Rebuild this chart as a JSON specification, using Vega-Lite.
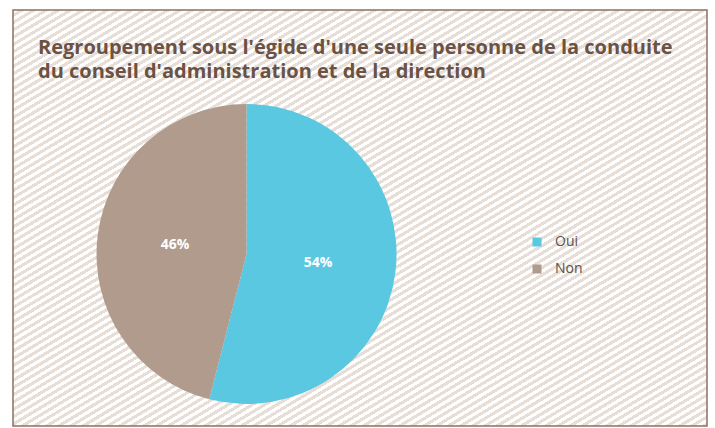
{
"$schema": "https://vega.github.io/schema/vega-lite/v6.json",
"width": 694,
"height": 416,
"autosize": "none",
"padding": {"left": 13, "top": 10, "right": 8, "bottom": 2},
"background": "white",
"title": {"text": ["Regroupement sous l'égide d'une seule personne de la conduite", "du conseil d'administration et de la direction"], "anchor": "start", "frame": "group", "orient": "top", "offset": -88, "dx": 25, "baseline": "alphabetic", "lineHeight": 24, "font": "Open Sans", "fontSize": 20, "fontWeight": 700, "color": "#6b5244"},
"data": {"values": [{"reponse": "Oui", "part": 0.54}, {"reponse": "Non", "part": 0.46}]},
"encoding": {
"theta": {"field": "part", "type": "quantitative", "stack": true},
"order": {"field": "part", "sort": "descending"},
"color": {"field": "reponse", "type": "nominal", "scale": {"domain": ["Oui", "Non"], "range": ["#5bc8e2", "#b09b8d"]}, "legend": {"title": null, "orient": "none", "legendX": 517, "legendY": 225, "symbolType": "square", "symbolSize": 81, "symbolStrokeWidth": 0, "labelFont": "Open Sans", "labelFontSize": 14, "labelColor": "#5e5048", "rowPadding": 13, "labelOffset": 11}},
"x": {"datum": 0.3365, "type": "quantitative", "scale": {"domain": [0, 1], "nice": false, "zero": false}, "axis": null},
"y": {"datum": 0.4135, "type": "quantitative", "scale": {"domain": [0, 1], "nice": false, "zero": false}, "axis": null}
},
"layer": [
{"mark": {"type": "arc", "outerRadius": 150}},
{"mark": {"type": "text", "radius": 72, "font": "Open Sans", "fontSize": 14, "fontWeight": "bold", "fill": "white"}, "encoding": {"text": {"field": "part", "type": "quantitative", "format": ".0%"}}}
],
"config": {"view": {"stroke": "#8a7263", "strokeWidth": 1.5, "fill": {"gradient": "linear", "x1": 0, "y1": 0, "x2": 1, "y2": 1, "stops": [
{"offset":0,"color":"#fff"},{"offset":0.0044,"color":"#fff"},{"offset":0.0044,"color":"#e6ded7"},{"offset":0.0088,"color":"#e6ded7"},
{"offset":0.0088,"color":"#fff"},{"offset":0.0132,"color":"#fff"},{"offset":0.0132,"color":"#e6ded7"},{"offset":0.0175,"color":"#e6ded7"},
{"offset":0.0175,"color":"#fff"},{"offset":0.0219,"color":"#fff"},{"offset":0.0219,"color":"#e6ded7"},{"offset":0.0263,"color":"#e6ded7"},
{"offset":0.0263,"color":"#fff"},{"offset":0.0307,"color":"#fff"},{"offset":0.0307,"color":"#e6ded7"},{"offset":0.0351,"color":"#e6ded7"},
{"offset":0.0351,"color":"#fff"},{"offset":0.0395,"color":"#fff"},{"offset":0.0395,"color":"#e6ded7"},{"offset":0.0439,"color":"#e6ded7"},
{"offset":0.0439,"color":"#fff"},{"offset":0.0482,"color":"#fff"},{"offset":0.0482,"color":"#e6ded7"},{"offset":0.0526,"color":"#e6ded7"},
{"offset":0.0526,"color":"#fff"},{"offset":0.0570,"color":"#fff"},{"offset":0.0570,"color":"#e6ded7"},{"offset":0.0614,"color":"#e6ded7"},
{"offset":0.0614,"color":"#fff"},{"offset":0.0658,"color":"#fff"},{"offset":0.0658,"color":"#e6ded7"},{"offset":0.0702,"color":"#e6ded7"},
{"offset":0.0702,"color":"#fff"},{"offset":0.0746,"color":"#fff"},{"offset":0.0746,"color":"#e6ded7"},{"offset":0.0789,"color":"#e6ded7"},
{"offset":0.0789,"color":"#fff"},{"offset":0.0833,"color":"#fff"},{"offset":0.0833,"color":"#e6ded7"},{"offset":0.0877,"color":"#e6ded7"},
{"offset":0.0877,"color":"#fff"},{"offset":0.0921,"color":"#fff"},{"offset":0.0921,"color":"#e6ded7"},{"offset":0.0965,"color":"#e6ded7"},
{"offset":0.0965,"color":"#fff"},{"offset":0.1009,"color":"#fff"},{"offset":0.1009,"color":"#e6ded7"},{"offset":0.1053,"color":"#e6ded7"},
{"offset":0.1053,"color":"#fff"},{"offset":0.1096,"color":"#fff"},{"offset":0.1096,"color":"#e6ded7"},{"offset":0.1140,"color":"#e6ded7"},
{"offset":0.1140,"color":"#fff"},{"offset":0.1184,"color":"#fff"},{"offset":0.1184,"color":"#e6ded7"},{"offset":0.1228,"color":"#e6ded7"},
{"offset":0.1228,"color":"#fff"},{"offset":0.1272,"color":"#fff"},{"offset":0.1272,"color":"#e6ded7"},{"offset":0.1316,"color":"#e6ded7"},
{"offset":0.1316,"color":"#fff"},{"offset":0.1360,"color":"#fff"},{"offset":0.1360,"color":"#e6ded7"},{"offset":0.1404,"color":"#e6ded7"},
{"offset":0.1404,"color":"#fff"},{"offset":0.1447,"color":"#fff"},{"offset":0.1447,"color":"#e6ded7"},{"offset":0.1491,"color":"#e6ded7"},
{"offset":0.1491,"color":"#fff"},{"offset":0.1535,"color":"#fff"},{"offset":0.1535,"color":"#e6ded7"},{"offset":0.1579,"color":"#e6ded7"},
{"offset":0.1579,"color":"#fff"},{"offset":0.1623,"color":"#fff"},{"offset":0.1623,"color":"#e6ded7"},{"offset":0.1667,"color":"#e6ded7"},
{"offset":0.1667,"color":"#fff"},{"offset":0.1711,"color":"#fff"},{"offset":0.1711,"color":"#e6ded7"},{"offset":0.1754,"color":"#e6ded7"},
{"offset":0.1754,"color":"#fff"},{"offset":0.1798,"color":"#fff"},{"offset":0.1798,"color":"#e6ded7"},{"offset":0.1842,"color":"#e6ded7"},
{"offset":0.1842,"color":"#fff"},{"offset":0.1886,"color":"#fff"},{"offset":0.1886,"color":"#e6ded7"},{"offset":0.1930,"color":"#e6ded7"},
{"offset":0.1930,"color":"#fff"},{"offset":0.1974,"color":"#fff"},{"offset":0.1974,"color":"#e6ded7"},{"offset":0.2018,"color":"#e6ded7"},
{"offset":0.2018,"color":"#fff"},{"offset":0.2061,"color":"#fff"},{"offset":0.2061,"color":"#e6ded7"},{"offset":0.2105,"color":"#e6ded7"},
{"offset":0.2105,"color":"#fff"},{"offset":0.2149,"color":"#fff"},{"offset":0.2149,"color":"#e6ded7"},{"offset":0.2193,"color":"#e6ded7"},
{"offset":0.2193,"color":"#fff"},{"offset":0.2237,"color":"#fff"},{"offset":0.2237,"color":"#e6ded7"},{"offset":0.2281,"color":"#e6ded7"},
{"offset":0.2281,"color":"#fff"},{"offset":0.2325,"color":"#fff"},{"offset":0.2325,"color":"#e6ded7"},{"offset":0.2368,"color":"#e6ded7"},
{"offset":0.2368,"color":"#fff"},{"offset":0.2412,"color":"#fff"},{"offset":0.2412,"color":"#e6ded7"},{"offset":0.2456,"color":"#e6ded7"},
{"offset":0.2456,"color":"#fff"},{"offset":0.2500,"color":"#fff"},{"offset":0.2500,"color":"#e6ded7"},{"offset":0.2544,"color":"#e6ded7"},
{"offset":0.2544,"color":"#fff"},{"offset":0.2588,"color":"#fff"},{"offset":0.2588,"color":"#e6ded7"},{"offset":0.2632,"color":"#e6ded7"},
{"offset":0.2632,"color":"#fff"},{"offset":0.2675,"color":"#fff"},{"offset":0.2675,"color":"#e6ded7"},{"offset":0.2719,"color":"#e6ded7"},
{"offset":0.2719,"color":"#fff"},{"offset":0.2763,"color":"#fff"},{"offset":0.2763,"color":"#e6ded7"},{"offset":0.2807,"color":"#e6ded7"},
{"offset":0.2807,"color":"#fff"},{"offset":0.2851,"color":"#fff"},{"offset":0.2851,"color":"#e6ded7"},{"offset":0.2895,"color":"#e6ded7"},
{"offset":0.2895,"color":"#fff"},{"offset":0.2939,"color":"#fff"},{"offset":0.2939,"color":"#e6ded7"},{"offset":0.2982,"color":"#e6ded7"},
{"offset":0.2982,"color":"#fff"},{"offset":0.3026,"color":"#fff"},{"offset":0.3026,"color":"#e6ded7"},{"offset":0.3070,"color":"#e6ded7"},
{"offset":0.3070,"color":"#fff"},{"offset":0.3114,"color":"#fff"},{"offset":0.3114,"color":"#e6ded7"},{"offset":0.3158,"color":"#e6ded7"},
{"offset":0.3158,"color":"#fff"},{"offset":0.3202,"color":"#fff"},{"offset":0.3202,"color":"#e6ded7"},{"offset":0.3246,"color":"#e6ded7"},
{"offset":0.3246,"color":"#fff"},{"offset":0.3289,"color":"#fff"},{"offset":0.3289,"color":"#e6ded7"},{"offset":0.3333,"color":"#e6ded7"},
{"offset":0.3333,"color":"#fff"},{"offset":0.3377,"color":"#fff"},{"offset":0.3377,"color":"#e6ded7"},{"offset":0.3421,"color":"#e6ded7"},
{"offset":0.3421,"color":"#fff"},{"offset":0.3465,"color":"#fff"},{"offset":0.3465,"color":"#e6ded7"},{"offset":0.3509,"color":"#e6ded7"},
{"offset":0.3509,"color":"#fff"},{"offset":0.3553,"color":"#fff"},{"offset":0.3553,"color":"#e6ded7"},{"offset":0.3596,"color":"#e6ded7"},
{"offset":0.3596,"color":"#fff"},{"offset":0.3640,"color":"#fff"},{"offset":0.3640,"color":"#e6ded7"},{"offset":0.3684,"color":"#e6ded7"},
{"offset":0.3684,"color":"#fff"},{"offset":0.3728,"color":"#fff"},{"offset":0.3728,"color":"#e6ded7"},{"offset":0.3772,"color":"#e6ded7"},
{"offset":0.3772,"color":"#fff"},{"offset":0.3816,"color":"#fff"},{"offset":0.3816,"color":"#e6ded7"},{"offset":0.3860,"color":"#e6ded7"},
{"offset":0.3860,"color":"#fff"},{"offset":0.3904,"color":"#fff"},{"offset":0.3904,"color":"#e6ded7"},{"offset":0.3947,"color":"#e6ded7"},
{"offset":0.3947,"color":"#fff"},{"offset":0.3991,"color":"#fff"},{"offset":0.3991,"color":"#e6ded7"},{"offset":0.4035,"color":"#e6ded7"},
{"offset":0.4035,"color":"#fff"},{"offset":0.4079,"color":"#fff"},{"offset":0.4079,"color":"#e6ded7"},{"offset":0.4123,"color":"#e6ded7"},
{"offset":0.4123,"color":"#fff"},{"offset":0.4167,"color":"#fff"},{"offset":0.4167,"color":"#e6ded7"},{"offset":0.4211,"color":"#e6ded7"},
{"offset":0.4211,"color":"#fff"},{"offset":0.4254,"color":"#fff"},{"offset":0.4254,"color":"#e6ded7"},{"offset":0.4298,"color":"#e6ded7"},
{"offset":0.4298,"color":"#fff"},{"offset":0.4342,"color":"#fff"},{"offset":0.4342,"color":"#e6ded7"},{"offset":0.4386,"color":"#e6ded7"},
{"offset":0.4386,"color":"#fff"},{"offset":0.4430,"color":"#fff"},{"offset":0.4430,"color":"#e6ded7"},{"offset":0.4474,"color":"#e6ded7"},
{"offset":0.4474,"color":"#fff"},{"offset":0.4518,"color":"#fff"},{"offset":0.4518,"color":"#e6ded7"},{"offset":0.4561,"color":"#e6ded7"},
{"offset":0.4561,"color":"#fff"},{"offset":0.4605,"color":"#fff"},{"offset":0.4605,"color":"#e6ded7"},{"offset":0.4649,"color":"#e6ded7"},
{"offset":0.4649,"color":"#fff"},{"offset":0.4693,"color":"#fff"},{"offset":0.4693,"color":"#e6ded7"},{"offset":0.4737,"color":"#e6ded7"},
{"offset":0.4737,"color":"#fff"},{"offset":0.4781,"color":"#fff"},{"offset":0.4781,"color":"#e6ded7"},{"offset":0.4825,"color":"#e6ded7"},
{"offset":0.4825,"color":"#fff"},{"offset":0.4868,"color":"#fff"},{"offset":0.4868,"color":"#e6ded7"},{"offset":0.4912,"color":"#e6ded7"},
{"offset":0.4912,"color":"#fff"},{"offset":0.4956,"color":"#fff"},{"offset":0.4956,"color":"#e6ded7"},{"offset":0.5000,"color":"#e6ded7"},
{"offset":0.5000,"color":"#fff"},{"offset":0.5044,"color":"#fff"},{"offset":0.5044,"color":"#e6ded7"},{"offset":0.5088,"color":"#e6ded7"},
{"offset":0.5088,"color":"#fff"},{"offset":0.5132,"color":"#fff"},{"offset":0.5132,"color":"#e6ded7"},{"offset":0.5175,"color":"#e6ded7"},
{"offset":0.5175,"color":"#fff"},{"offset":0.5219,"color":"#fff"},{"offset":0.5219,"color":"#e6ded7"},{"offset":0.5263,"color":"#e6ded7"},
{"offset":0.5263,"color":"#fff"},{"offset":0.5307,"color":"#fff"},{"offset":0.5307,"color":"#e6ded7"},{"offset":0.5351,"color":"#e6ded7"},
{"offset":0.5351,"color":"#fff"},{"offset":0.5395,"color":"#fff"},{"offset":0.5395,"color":"#e6ded7"},{"offset":0.5439,"color":"#e6ded7"},
{"offset":0.5439,"color":"#fff"},{"offset":0.5482,"color":"#fff"},{"offset":0.5482,"color":"#e6ded7"},{"offset":0.5526,"color":"#e6ded7"},
{"offset":0.5526,"color":"#fff"},{"offset":0.5570,"color":"#fff"},{"offset":0.5570,"color":"#e6ded7"},{"offset":0.5614,"color":"#e6ded7"},
{"offset":0.5614,"color":"#fff"},{"offset":0.5658,"color":"#fff"},{"offset":0.5658,"color":"#e6ded7"},{"offset":0.5702,"color":"#e6ded7"},
{"offset":0.5702,"color":"#fff"},{"offset":0.5746,"color":"#fff"},{"offset":0.5746,"color":"#e6ded7"},{"offset":0.5789,"color":"#e6ded7"},
{"offset":0.5789,"color":"#fff"},{"offset":0.5833,"color":"#fff"},{"offset":0.5833,"color":"#e6ded7"},{"offset":0.5877,"color":"#e6ded7"},
{"offset":0.5877,"color":"#fff"},{"offset":0.5921,"color":"#fff"},{"offset":0.5921,"color":"#e6ded7"},{"offset":0.5965,"color":"#e6ded7"},
{"offset":0.5965,"color":"#fff"},{"offset":0.6009,"color":"#fff"},{"offset":0.6009,"color":"#e6ded7"},{"offset":0.6053,"color":"#e6ded7"},
{"offset":0.6053,"color":"#fff"},{"offset":0.6096,"color":"#fff"},{"offset":0.6096,"color":"#e6ded7"},{"offset":0.6140,"color":"#e6ded7"},
{"offset":0.6140,"color":"#fff"},{"offset":0.6184,"color":"#fff"},{"offset":0.6184,"color":"#e6ded7"},{"offset":0.6228,"color":"#e6ded7"},
{"offset":0.6228,"color":"#fff"},{"offset":0.6272,"color":"#fff"},{"offset":0.6272,"color":"#e6ded7"},{"offset":0.6316,"color":"#e6ded7"},
{"offset":0.6316,"color":"#fff"},{"offset":0.6360,"color":"#fff"},{"offset":0.6360,"color":"#e6ded7"},{"offset":0.6404,"color":"#e6ded7"},
{"offset":0.6404,"color":"#fff"},{"offset":0.6447,"color":"#fff"},{"offset":0.6447,"color":"#e6ded7"},{"offset":0.6491,"color":"#e6ded7"},
{"offset":0.6491,"color":"#fff"},{"offset":0.6535,"color":"#fff"},{"offset":0.6535,"color":"#e6ded7"},{"offset":0.6579,"color":"#e6ded7"},
{"offset":0.6579,"color":"#fff"},{"offset":0.6623,"color":"#fff"},{"offset":0.6623,"color":"#e6ded7"},{"offset":0.6667,"color":"#e6ded7"},
{"offset":0.6667,"color":"#fff"},{"offset":0.6711,"color":"#fff"},{"offset":0.6711,"color":"#e6ded7"},{"offset":0.6754,"color":"#e6ded7"},
{"offset":0.6754,"color":"#fff"},{"offset":0.6798,"color":"#fff"},{"offset":0.6798,"color":"#e6ded7"},{"offset":0.6842,"color":"#e6ded7"},
{"offset":0.6842,"color":"#fff"},{"offset":0.6886,"color":"#fff"},{"offset":0.6886,"color":"#e6ded7"},{"offset":0.6930,"color":"#e6ded7"},
{"offset":0.6930,"color":"#fff"},{"offset":0.6974,"color":"#fff"},{"offset":0.6974,"color":"#e6ded7"},{"offset":0.7018,"color":"#e6ded7"},
{"offset":0.7018,"color":"#fff"},{"offset":0.7061,"color":"#fff"},{"offset":0.7061,"color":"#e6ded7"},{"offset":0.7105,"color":"#e6ded7"},
{"offset":0.7105,"color":"#fff"},{"offset":0.7149,"color":"#fff"},{"offset":0.7149,"color":"#e6ded7"},{"offset":0.7193,"color":"#e6ded7"},
{"offset":0.7193,"color":"#fff"},{"offset":0.7237,"color":"#fff"},{"offset":0.7237,"color":"#e6ded7"},{"offset":0.7281,"color":"#e6ded7"},
{"offset":0.7281,"color":"#fff"},{"offset":0.7325,"color":"#fff"},{"offset":0.7325,"color":"#e6ded7"},{"offset":0.7368,"color":"#e6ded7"},
{"offset":0.7368,"color":"#fff"},{"offset":0.7412,"color":"#fff"},{"offset":0.7412,"color":"#e6ded7"},{"offset":0.7456,"color":"#e6ded7"},
{"offset":0.7456,"color":"#fff"},{"offset":0.7500,"color":"#fff"},{"offset":0.7500,"color":"#e6ded7"},{"offset":0.7544,"color":"#e6ded7"},
{"offset":0.7544,"color":"#fff"},{"offset":0.7588,"color":"#fff"},{"offset":0.7588,"color":"#e6ded7"},{"offset":0.7632,"color":"#e6ded7"},
{"offset":0.7632,"color":"#fff"},{"offset":0.7675,"color":"#fff"},{"offset":0.7675,"color":"#e6ded7"},{"offset":0.7719,"color":"#e6ded7"},
{"offset":0.7719,"color":"#fff"},{"offset":0.7763,"color":"#fff"},{"offset":0.7763,"color":"#e6ded7"},{"offset":0.7807,"color":"#e6ded7"},
{"offset":0.7807,"color":"#fff"},{"offset":0.7851,"color":"#fff"},{"offset":0.7851,"color":"#e6ded7"},{"offset":0.7895,"color":"#e6ded7"},
{"offset":0.7895,"color":"#fff"},{"offset":0.7939,"color":"#fff"},{"offset":0.7939,"color":"#e6ded7"},{"offset":0.7982,"color":"#e6ded7"},
{"offset":0.7982,"color":"#fff"},{"offset":0.8026,"color":"#fff"},{"offset":0.8026,"color":"#e6ded7"},{"offset":0.8070,"color":"#e6ded7"},
{"offset":0.8070,"color":"#fff"},{"offset":0.8114,"color":"#fff"},{"offset":0.8114,"color":"#e6ded7"},{"offset":0.8158,"color":"#e6ded7"},
{"offset":0.8158,"color":"#fff"},{"offset":0.8202,"color":"#fff"},{"offset":0.8202,"color":"#e6ded7"},{"offset":0.8246,"color":"#e6ded7"},
{"offset":0.8246,"color":"#fff"},{"offset":0.8289,"color":"#fff"},{"offset":0.8289,"color":"#e6ded7"},{"offset":0.8333,"color":"#e6ded7"},
{"offset":0.8333,"color":"#fff"},{"offset":0.8377,"color":"#fff"},{"offset":0.8377,"color":"#e6ded7"},{"offset":0.8421,"color":"#e6ded7"},
{"offset":0.8421,"color":"#fff"},{"offset":0.8465,"color":"#fff"},{"offset":0.8465,"color":"#e6ded7"},{"offset":0.8509,"color":"#e6ded7"},
{"offset":0.8509,"color":"#fff"},{"offset":0.8553,"color":"#fff"},{"offset":0.8553,"color":"#e6ded7"},{"offset":0.8596,"color":"#e6ded7"},
{"offset":0.8596,"color":"#fff"},{"offset":0.8640,"color":"#fff"},{"offset":0.8640,"color":"#e6ded7"},{"offset":0.8684,"color":"#e6ded7"},
{"offset":0.8684,"color":"#fff"},{"offset":0.8728,"color":"#fff"},{"offset":0.8728,"color":"#e6ded7"},{"offset":0.8772,"color":"#e6ded7"},
{"offset":0.8772,"color":"#fff"},{"offset":0.8816,"color":"#fff"},{"offset":0.8816,"color":"#e6ded7"},{"offset":0.8860,"color":"#e6ded7"},
{"offset":0.8860,"color":"#fff"},{"offset":0.8904,"color":"#fff"},{"offset":0.8904,"color":"#e6ded7"},{"offset":0.8947,"color":"#e6ded7"},
{"offset":0.8947,"color":"#fff"},{"offset":0.8991,"color":"#fff"},{"offset":0.8991,"color":"#e6ded7"},{"offset":0.9035,"color":"#e6ded7"},
{"offset":0.9035,"color":"#fff"},{"offset":0.9079,"color":"#fff"},{"offset":0.9079,"color":"#e6ded7"},{"offset":0.9123,"color":"#e6ded7"},
{"offset":0.9123,"color":"#fff"},{"offset":0.9167,"color":"#fff"},{"offset":0.9167,"color":"#e6ded7"},{"offset":0.9211,"color":"#e6ded7"},
{"offset":0.9211,"color":"#fff"},{"offset":0.9254,"color":"#fff"},{"offset":0.9254,"color":"#e6ded7"},{"offset":0.9298,"color":"#e6ded7"},
{"offset":0.9298,"color":"#fff"},{"offset":0.9342,"color":"#fff"},{"offset":0.9342,"color":"#e6ded7"},{"offset":0.9386,"color":"#e6ded7"},
{"offset":0.9386,"color":"#fff"},{"offset":0.9430,"color":"#fff"},{"offset":0.9430,"color":"#e6ded7"},{"offset":0.9474,"color":"#e6ded7"},
{"offset":0.9474,"color":"#fff"},{"offset":0.9518,"color":"#fff"},{"offset":0.9518,"color":"#e6ded7"},{"offset":0.9561,"color":"#e6ded7"},
{"offset":0.9561,"color":"#fff"},{"offset":0.9605,"color":"#fff"},{"offset":0.9605,"color":"#e6ded7"},{"offset":0.9649,"color":"#e6ded7"},
{"offset":0.9649,"color":"#fff"},{"offset":0.9693,"color":"#fff"},{"offset":0.9693,"color":"#e6ded7"},{"offset":0.9737,"color":"#e6ded7"},
{"offset":0.9737,"color":"#fff"},{"offset":0.9781,"color":"#fff"},{"offset":0.9781,"color":"#e6ded7"},{"offset":0.9825,"color":"#e6ded7"},
{"offset":0.9825,"color":"#fff"},{"offset":0.9868,"color":"#fff"},{"offset":0.9868,"color":"#e6ded7"},{"offset":0.9912,"color":"#e6ded7"},
{"offset":0.9912,"color":"#fff"},{"offset":0.9956,"color":"#fff"},{"offset":0.9956,"color":"#e6ded7"},{"offset":1,"color":"#e6ded7"}
]}}}
}
